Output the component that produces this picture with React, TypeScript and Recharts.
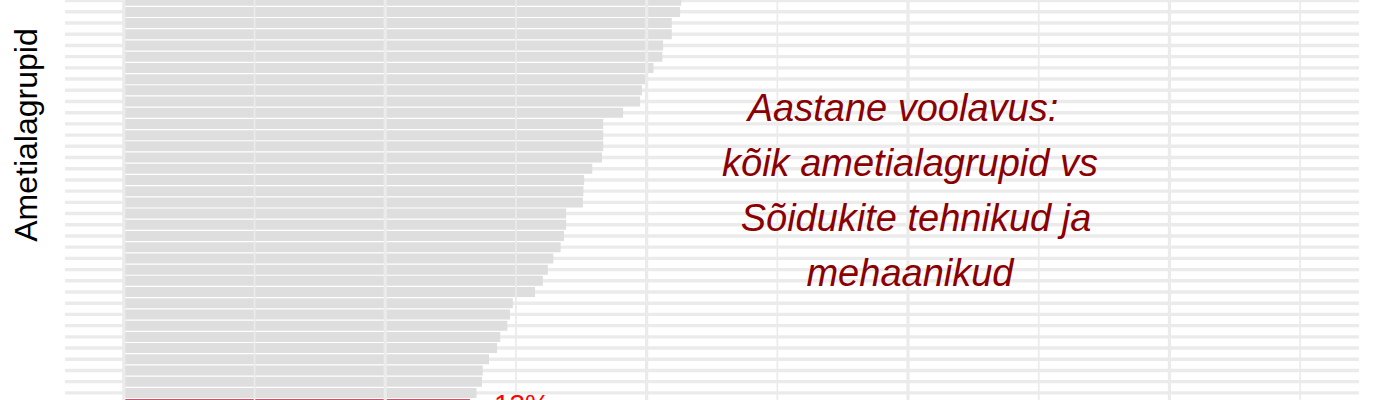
import React from 'react';
import { BarChart, Bar, XAxis, YAxis, CartesianGrid, ReferenceLine, Cell, LabelList } from 'recharts';

// Annual turnover (%) by occupation group, sorted high to low (top of list cropped in the picture).
const groups = [
  'Grupp 01', 'Grupp 02', 'Grupp 03', 'Grupp 04', 'Grupp 05', 'Grupp 06', 'Grupp 07', 'Grupp 08',
  'Grupp 09', 'Grupp 10', 'Grupp 11', 'Grupp 12', 'Grupp 13', 'Grupp 14', 'Grupp 15', 'Grupp 16',
  'Grupp 17', 'Grupp 18', 'Grupp 19', 'Grupp 20', 'Grupp 21', 'Grupp 22', 'Grupp 23', 'Grupp 24',
  'Grupp 25', 'Grupp 26', 'Grupp 27', 'Grupp 28', 'Grupp 29', 'Grupp 30', 'Grupp 31', 'Grupp 32',
  'Grupp 33', 'Grupp 34', 'Grupp 35', 'Grupp 36', 'Sõidukite tehnikud ja mehaanikud',
];
const turnover = [
  21.32, 21.28, 20.96, 20.96, 20.63, 20.6, 20.26, 19.94,
  19.82, 19.75, 19.1, 18.34, 18.34, 18.34, 18.29, 17.92,
  17.61, 17.58, 17.56, 16.92, 16.92, 16.84, 16.71, 16.43,
  16.22, 16.03, 15.73, 14.88, 14.77, 14.67, 14.4, 14.28,
  13.97, 13.73, 13.7, 13.49, 13.24,
];
const highlight = 'Sõidukite tehnikud ja mehaanikud';

const majorTicks = [0, 10, 20, 30, 40];
const minorTicks = [5, 15, 25, 35, 45];
const xDomain = [-2.25, 47.25];

const titleLines = ['Aastane voolavus:', 'kõik ametialagrupid vs', 'Sõidukite tehnikud ja', 'mehaanikud'];
const axisTitle = 'Ametialagrupid';

const data = groups.map((name, i) => ({ name, value: turnover[i] }));

const font = '"Liberation Sans", Arial, sans-serif';

const HighlightLabel = (props: any) => {
  const { x, y, width, height, index } = props;
  if (data[index].name !== highlight) return null;
  return (
    <text
      x={x + width + 24}
      y={y + height / 2}
      fill="#ff0000"
      fontSize={28}
      fontFamily={font}
      dominantBaseline="central"
    >
      {Math.round(data[index].value)}%
    </text>
  );
};

export default function App() {
  const lineX = [903, 910, 916, 910];
  return (
    <div style={{ position: 'relative', width: 1400, height: 400, overflow: 'hidden', background: '#fff' }}>
      <style>{'body{margin:0}'}</style>
      <div style={{ position: 'absolute', top: -5.1, left: 0 }}>
        <BarChart
          width={1400}
          height={414.7}
          data={data}
          layout="vertical"
          margin={{ top: 0, right: 41, bottom: 0, left: 65 }}
          barCategoryGap="6%"
        >
          <CartesianGrid vertical={false} stroke="#ebebeb" strokeWidth={3.4} />
          <XAxis type="number" domain={xDomain} ticks={majorTicks} hide allowDataOverflow />
          <YAxis type="category" dataKey="name" interval={0} hide />
          <Bar dataKey="value" isAnimationActive={false}>
            {data.map(d => (
              <Cell key={d.name} fill={d.name === highlight ? '#c8102e' : '#dedede'} />
            ))}
            <LabelList dataKey="value" content={HighlightLabel} />
          </Bar>
          {minorTicks.map(v => (
            <ReferenceLine key={'mi' + v} x={v} stroke="#ebebeb" strokeWidth={1.7} />
          ))}
          {majorTicks.map(v => (
            <ReferenceLine key={'ma' + v} x={v} stroke="#ebebeb" strokeWidth={3.2} />
          ))}
        </BarChart>
      </div>
      <svg width={1400} height={400} style={{ position: 'absolute', top: 0, left: 0, pointerEvents: 'none' }}>
        <text
          x={37}
          y={135}
          transform="rotate(-90 37 135)"
          textAnchor="middle"
          fontSize={32}
          fontFamily={font}
          fill="#000"
        >
          {axisTitle}
        </text>
        {titleLines.map((line, i) => (
          <text
            key={line}
            x={lineX[i]}
            y={121 + i * 55}
            textAnchor="middle"
            fontSize={38}
            fontStyle="italic"
            fontFamily={font}
            fill="#8b0000"
          >
            {line}
          </text>
        ))}
      </svg>
    </div>
  );
}
